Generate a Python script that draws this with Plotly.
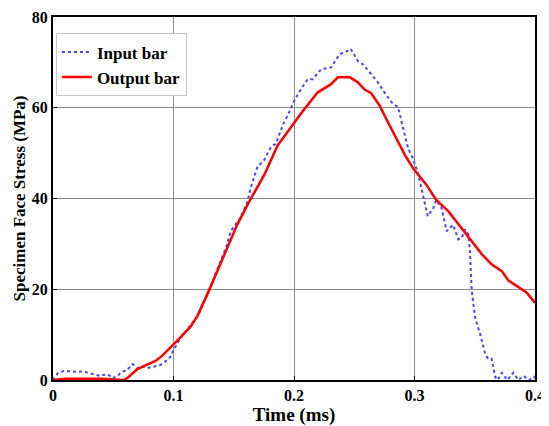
import plotly.graph_objects as go

input_t = [0.000, 0.004, 0.009, 0.015, 0.020, 0.025, 0.030, 0.035, 0.039, 0.045,
           0.050, 0.054, 0.057, 0.061, 0.066, 0.070, 0.074, 0.078, 0.084, 0.089,
           0.093, 0.0975, 0.100, 0.103, 0.107, 0.111, 0.115, 0.120, 0.125, 0.130,
           0.135, 0.140, 0.144, 0.1475, 0.151, 0.155, 0.1585, 0.1614, 0.164, 0.1697,
           0.1753, 0.181, 0.185, 0.1906, 0.196, 0.2003, 0.2058, 0.2114, 0.2156, 0.2225,
           0.2308, 0.2378, 0.243, 0.247, 0.253, 0.257, 0.264, 0.2697, 0.275, 0.281,
           0.2864, 0.2906, 0.2947, 0.2985, 0.303, 0.307, 0.311, 0.3156, 0.318, 0.3225,
           0.3267, 0.332, 0.3364, 0.339, 0.342, 0.3447, 0.346, 0.3475, 0.3503, 0.3544,
           0.3586, 0.361, 0.364, 0.367, 0.369, 0.3725, 0.377, 0.382, 0.386, 0.3906,
           0.395, 0.399, 0.400]
input_s = [0.0, 1.5, 2.0, 1.8, 1.8, 1.9, 1.6, 1.3, 0.9, 1.3,
           0.4, 1.0, 1.8, 2.1, 3.5, 2.6, 3.0, 2.6, 2.9, 3.3,
           4.0, 5.1, 6.6, 8.0, 9.8, 11.0, 12.3, 14.0, 17.0, 20.0,
           23.5, 27.0, 29.5, 32.8, 34.0, 35.5, 37.5, 39.3, 42.3, 47.0,
           48.5, 51.4, 52.1, 56.1, 59.0, 61.6, 64.1, 66.3, 66.3, 68.5,
           68.9, 71.8, 72.3, 73.0, 70.3, 69.6, 67.4, 65.6, 63.4, 61.2,
           60.1, 55.4, 51.0, 49.0, 45.5, 40.8, 36.1, 37.9, 39.7, 37.9,
           32.8, 34.2, 31.0, 31.3, 33.2, 32.1, 28.4, 19.7, 13.8, 10.2,
           5.8, 4.7, 4.7, 0.7, 0.0, 1.6, 0.0, 1.6, 0.0, 0.9,
           0.0, 0.7, 0.4]

output_t = [0.000, 0.010, 0.040, 0.055, 0.059, 0.062, 0.066, 0.070, 0.075, 0.080,
            0.085, 0.090, 0.095, 0.100, 0.105, 0.114, 0.120, 0.1294, 0.139, 0.146,
            0.153, 0.1628, 0.1753, 0.1864, 0.1975, 0.2086, 0.2197, 0.2308, 0.2364, 0.246,
            0.253, 0.2586, 0.264, 0.271, 0.278, 0.285, 0.292, 0.299, 0.306, 0.310,
            0.318, 0.328, 0.3378, 0.3475, 0.356, 0.364, 0.3725, 0.378, 0.385, 0.393,
            0.400]
output_s = [0.0, 0.3, 0.3, 0.0, 0.0, 0.5, 1.5, 2.4, 3.0, 3.6,
            4.2, 5.2, 6.5, 8.0, 9.2, 11.7, 14.2, 19.7, 25.5, 30.0,
            34.3, 39.3, 45.2, 51.7, 55.7, 59.7, 63.4, 65.2, 66.7, 66.8,
            65.6, 64.0, 63.2, 60.5, 56.8, 53.2, 49.6, 46.6, 44.4, 43.0,
            39.7, 37.2, 33.9, 30.6, 27.7, 25.5, 24.0, 21.9, 20.6, 19.3,
            17.0]

x_ticks = [0, 0.1, 0.2, 0.3, 0.4]
y_ticks = [0, 20, 40, 60, 80]

FONT = "Liberation Serif"

fig = go.Figure()
fig.add_trace(go.Scatter(x=input_t, y=input_s, mode="lines", name="Input bar",
                         line=dict(color="rgb(70,70,245)", width=2, dash="dot")))
fig.add_trace(go.Scatter(x=output_t, y=output_s, mode="lines", name="Output bar",
                         line=dict(color="rgb(255,0,0)", width=2.5)))

axis_common = dict(showline=True, linecolor="black", linewidth=2, mirror=True,
                   showgrid=True, gridcolor="rgb(140,140,140)", gridwidth=1,
                   zeroline=False, ticks="inside", ticklen=4, tickcolor="black",
                   automargin=False, ticklabeloverflow="allow")

fig.update_xaxes(range=[0, 0.4], tickvals=x_ticks, ticktext=[str(v) for v in x_ticks],
                 tickfont=dict(family=FONT, size=16, color="black", weight="bold"),
                 title=dict(text="Time (ms)", standoff=2,
                            font=dict(family=FONT, size=19, color="black", weight="bold")),
                 **axis_common)
fig.update_yaxes(range=[0, 80], tickvals=y_ticks,
                 tickfont=dict(family=FONT, size=16, color="black", weight="bold"),
                 title=dict(text="Specimen Face Stress (MPa)", standoff=2,
                            font=dict(family=FONT, size=17, color="black", weight="bold")),
                 **axis_common)

fig.update_layout(
    width=541, height=418,
    margin=dict(l=45, r=14, t=9, b=46),
    plot_bgcolor="white", paper_bgcolor="white",
    showlegend=True,
    legend=dict(x=0.006, y=0.955, xanchor="left", yanchor="top",
                bgcolor="white", bordercolor="rgb(200,200,200)", borderwidth=1,
                font=dict(family=FONT, size=17, color="black", weight="bold"),
                tracegroupgap=0, itemwidth=30),
)

fig.write_html("out.html")
